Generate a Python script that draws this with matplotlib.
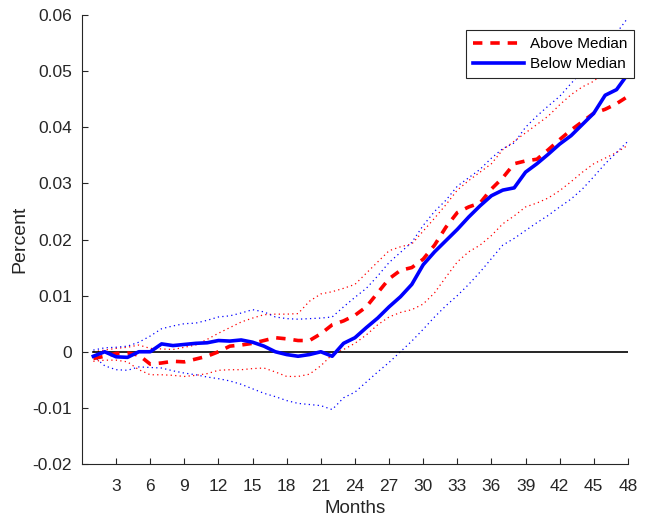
import numpy as np
import matplotlib
matplotlib.use("Agg")
import matplotlib.pyplot as plt

plt.rcParams['font.family'] = ['Liberation Sans', 'DejaVu Sans']

months = np.arange(1, 49)

# Above median: point estimate and bands
above = [-0.0012, -0.0008, -0.0003, -0.0002, -0.0006, -0.0022, -0.0020, -0.0017,
         -0.0018, -0.0013, -0.0008, 0.0000, 0.0010, 0.0012, 0.0015, 0.0020,
         0.0025, 0.0023, 0.0020, 0.0020, 0.0032, 0.0048, 0.0055, 0.0065,
         0.0080, 0.0105, 0.0130, 0.0145, 0.0150, 0.0165, 0.0190, 0.0222,
         0.0248, 0.0258, 0.0265, 0.0290, 0.0310, 0.0335, 0.0340, 0.0343,
         0.0360, 0.0378, 0.0395, 0.0410, 0.0425, 0.0432, 0.0442, 0.0455]
above_hi = [0.0000, 0.0003, 0.0006, 0.0008, 0.0012, 0.0006, 0.0005, 0.0004,
            0.0008, 0.0012, 0.0022, 0.0033, 0.0043, 0.0053, 0.0060, 0.0066,
            0.0067, 0.0067, 0.0068, 0.0090, 0.0103, 0.0107, 0.0113, 0.0120,
            0.0140, 0.0160, 0.0180, 0.0187, 0.0192, 0.0215, 0.0238, 0.0262,
            0.0288, 0.0305, 0.0320, 0.0335, 0.0360, 0.0375, 0.0390, 0.0405,
            0.0420, 0.0440, 0.0458, 0.0472, 0.0482, 0.0500, 0.0518, 0.0535]
above_lo = [-0.0017, -0.0015, -0.0015, -0.0018, -0.0032, -0.0041, -0.0041, -0.0042,
            -0.0044, -0.0042, -0.0039, -0.0033, -0.0032, -0.0032, -0.0030, -0.0029,
            -0.0036, -0.0044, -0.0044, -0.0040, -0.0025, -0.0005, 0.0004, 0.0015,
            0.0030, 0.0048, 0.0062, 0.0070, 0.0075, 0.0085, 0.0105, 0.0133,
            0.0160, 0.0178, 0.0190, 0.0207, 0.0228, 0.0242, 0.0258, 0.0265,
            0.0274, 0.0287, 0.0303, 0.0320, 0.0335, 0.0345, 0.0355, 0.0368]

# Below median: point estimate and bands
below = [-0.0008, 0.0000, -0.0009, -0.0010, 0.0000, 0.0000, 0.0014, 0.0011,
         0.0013, 0.0015, 0.0016, 0.0020, 0.0019, 0.0021, 0.0017, 0.0010,
         0.0000, -0.0005, -0.0008, -0.0005, 0.0000, -0.0008, 0.0015, 0.0025,
         0.0043, 0.0060, 0.0080, 0.0098, 0.0120, 0.0155, 0.0178, 0.0198,
         0.0218, 0.0240, 0.0260, 0.0278, 0.0288, 0.0292, 0.0320, 0.0335,
         0.0352, 0.0370, 0.0385, 0.0405, 0.0425, 0.0457, 0.0467, 0.0495]
below_hi = [0.0003, 0.0007, 0.0008, 0.0010, 0.0017, 0.0028, 0.0041, 0.0046,
            0.0050, 0.0051, 0.0056, 0.0062, 0.0064, 0.0069, 0.0075, 0.0071,
            0.0062, 0.0059, 0.0058, 0.0059, 0.0060, 0.0062, 0.0080, 0.0097,
            0.0113, 0.0135, 0.0159, 0.0177, 0.0195, 0.0225, 0.0250, 0.0270,
            0.0295, 0.0310, 0.0325, 0.0345, 0.0362, 0.0372, 0.0400, 0.0420,
            0.0438, 0.0455, 0.0478, 0.0500, 0.0522, 0.0545, 0.0568, 0.0595]
below_lo = [-0.0008, -0.0025, -0.0032, -0.0033, -0.0027, -0.0028, -0.0029, -0.0034,
            -0.0038, -0.0041, -0.0045, -0.0048, -0.0052, -0.0058, -0.0066, -0.0074,
            -0.0080, -0.0087, -0.0092, -0.0094, -0.0096, -0.0103, -0.0082, -0.0072,
            -0.0054, -0.0036, -0.0019, 0.0000, 0.0019, 0.0040, 0.0062, 0.0082,
            0.0100, 0.0120, 0.0142, 0.0166, 0.0190, 0.0202, 0.0216, 0.0230,
            0.0243, 0.0258, 0.0272, 0.0290, 0.0312, 0.0335, 0.0355, 0.0375]

xticks = np.arange(3, 49, 3)
yticks = np.arange(-0.02, 0.0601, 0.01)
ytick_labels = ['-0.02', '-0.01', '0', '0.01', '0.02', '0.03', '0.04', '0.05', '0.06']

fig = plt.figure(figsize=(6.48, 5.17), dpi=100)
ax = fig.add_axes([0.1265, 0.1025, 0.8425, 0.8685])

# confidence bands (sparse dots like matlab ':')
dots = (0, (1, 2.6))
ax.plot(months, above_hi, color='red', linestyle=dots, linewidth=0.9)
ax.plot(months, above_lo, color='red', linestyle=dots, linewidth=0.9)
ax.plot(months, below_hi, color='blue', linestyle=dots, linewidth=0.9)
ax.plot(months, below_lo, color='blue', linestyle=dots, linewidth=0.9)

ax.plot(months, np.zeros(len(months)), color='black', linewidth=1.2)

ax.plot(months, above, color='red', linestyle='--', linewidth=2.6,
        dashes=(2.6, 2.2), label='Above Median')
ax.plot(months, below, color='blue', linestyle='-', linewidth=2.6,
        label='Below Median')

ax.set_xlim(0, 48)
ax.set_ylim(-0.02, 0.06)
ax.set_xticks(xticks)
ax.set_yticks(yticks)
ax.set_yticklabels(ytick_labels)
ax.tick_params(direction='in', length=4, labelsize=12.5, colors='#262626')
ax.tick_params(axis='x', pad=11)
ax.tick_params(axis='y', pad=7)
ax.spines['top'].set_visible(False)
ax.spines['right'].set_visible(False)
for s in ['left', 'bottom']:
    ax.spines[s].set_color('#262626')
    ax.spines[s].set_linewidth(0.8)

ax.set_xlabel('Months', fontsize=13.5, color='#262626', labelpad=4)
ax.set_ylabel('Percent', fontsize=14, color='#262626', labelpad=3)

leg = ax.legend(loc='upper right', bbox_to_anchor=(1.011, 0.966), fontsize=11,
                fancybox=False, framealpha=1, edgecolor='#262626',
                handlelength=3.3, borderpad=0.45, labelspacing=0.4,
                handletextpad=0.4, borderaxespad=0)
leg.get_frame().set_linewidth(0.8)

fig.savefig('out.png', dpi=100)
